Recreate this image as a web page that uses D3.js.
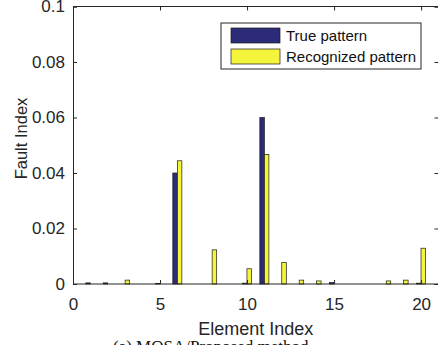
<!DOCTYPE html>
<html>
<head>
<meta charset="utf-8">
<script src="https://cdn.jsdelivr.net/npm/d3@7"></script>
<style>
  html, body { margin: 0; padding: 0; background: #fff; }
  svg { display: block; }
</style>
</head>
<body>
<svg id="chart" width="438" height="345"></svg>
<script>
// Element indices 1..20
const elements = d3.range(1, 21);
// Fault index per element
const truePattern = [0.0004, 0.0004, 0, 0, 0.0002, 0.04, 0, 0, 0, 0.0003,
                     0.06, 0, 0, 0, 0.0005, 0, 0, 0, 0, 0.0003];
const recognizedPattern = [0, 0, 0.0014, 0, 0, 0.0444, 0, 0.0123, 0, 0.0055,
                           0.0467, 0.0078, 0.0014, 0.0011, 0, 0, 0, 0.0011, 0.0014, 0.0129];
const seriesNames = ["True pattern", "Recognized pattern"];
const xTicks = [0, 5, 10, 15, 20];
const yTicks = [0, 0.02, 0.04, 0.06, 0.08, 0.1];
const yTickLabels = ["0", "0.02", "0.04", "0.06", "0.08", "0.1"];

const colors = ["#2c2b78", "#f4f43c"];
const svg = d3.select("#chart");
const m = { left: 73, right: 438.5, top: 6.5, bottom: 284 };

const x = d3.scaleLinear().domain([0, 21]).range([m.left, m.right]);
const y = d3.scaleLinear().domain([0, 0.1]).range([m.bottom, m.top]);

const barW = 0.26;           // width of one bar in element units
const offsets = [-0.135, 0.125];
const series = [truePattern, recognizedPattern];

const font = "'Liberation Sans', Arial, Helvetica, sans-serif";
const axisColor = "#262626";

// bars
series.forEach((vals, s) => {
  svg.append("g").selectAll("rect")
    .data(elements.map((e, i) => ({ e, v: vals[i] })))
    .join("rect")
    .attr("x", d => x(d.e + offsets[s] - barW / 2))
    .attr("width", d => x(d.e + offsets[s] + barW / 2) - x(d.e + offsets[s] - barW / 2))
    .attr("y", d => y(d.v))
    .attr("height", d => y(0) - y(d.v))
    .attr("fill", colors[s])
    .attr("stroke", "#1a1a1a")
    .attr("stroke-width", 0.7);
});

// axes (box with inward ticks on all sides)
const tickLen = 4;
const bottomAxis = d3.axisBottom(x).tickValues(xTicks).tickSize(-tickLen).tickPadding(14).tickFormat(d3.format("d"));
const leftAxis = d3.axisLeft(y).tickValues(yTicks).tickSize(-tickLen).tickPadding(8)
  .tickFormat((d, i) => yTickLabels[i]);
const topAxis = d3.axisTop(x).tickValues(xTicks).tickSize(-tickLen).tickFormat("");
const rightAxis = d3.axisRight(y).tickValues(yTicks).tickSize(-tickLen).tickFormat("");

function style(g) {
  g.select(".domain").attr("stroke", axisColor).attr("stroke-width", 1);
  g.selectAll(".tick line").attr("stroke", axisColor);
  g.selectAll("text").attr("fill", axisColor).style("font-family", font).style("font-size", "17px");
}
svg.append("g").attr("transform", `translate(0,${m.bottom})`).call(bottomAxis).call(g => g.select(".domain").attr("d", `M${m.left},0H${m.right}`)).call(style);
svg.append("g").attr("transform", `translate(${m.left},0)`).call(leftAxis).call(style);
svg.append("g").attr("transform", `translate(0,${m.top})`).call(topAxis).call(g => g.select(".domain").attr("d", `M${m.left},0H${m.right}`)).call(style);
svg.append("g").attr("transform", `translate(${m.right},0)`).call(rightAxis).call(style);

// axis titles
svg.append("text")
  .attr("x", (m.left + m.right) / 2).attr("y", 335)
  .attr("text-anchor", "middle")
  .attr("fill", axisColor)
  .style("font-family", font).style("font-size", "18px")
  .text("Element Index");
svg.append("text")
  .attr("transform", "translate(27,138.5) rotate(-90)")
  .attr("text-anchor", "middle")
  .attr("fill", axisColor)
  .style("font-family", font).style("font-size", "16.5px")
  .text("Fault Index");

// caption below the axis title
svg.append("text")
  .attr("x", 113).attr("y", 352)
  .attr("fill", "#111")
  .style("font-family", "'Liberation Serif', 'Times New Roman', serif").style("font-size", "17px")
  .text("(a) MOSA/Proposed method");

// legend
const lg = svg.append("g").attr("transform", "translate(221,23)");
lg.append("rect").attr("width", 200).attr("height", 46)
  .attr("fill", "#fff").attr("stroke", axisColor).attr("stroke-width", 1);
seriesNames.forEach((name, i) => {
  lg.append("rect").attr("x", 10).attr("y", 5 + i * 21).attr("width", 49).attr("height", 15)
    .attr("fill", colors[i]).attr("stroke", "#1a1a1a").attr("stroke-width", 0.7);
  lg.append("text").attr("x", 65).attr("y", 18 + i * 21)
    .attr("fill", "#111")
    .style("font-family", font).style("font-size", "15px")
    .text(name);
});
</script>
</body>
</html>
